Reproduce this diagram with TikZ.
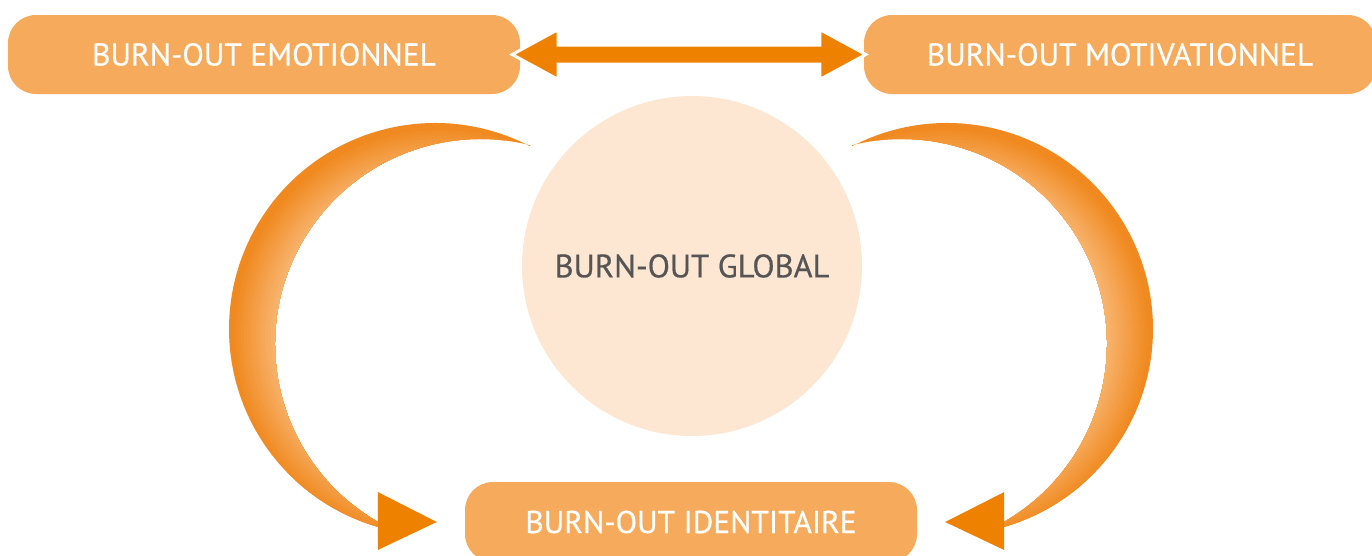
\documentclass[tikz,border=0pt]{standalone}
\usepackage{fontspec}
\setmainfont{PT Sans}
\newfontfamily\labelfont{PT Sans}[FakeBold=0.5]
\usetikzlibrary{calc}

\definecolor{boxorange}{HTML}{F6AB5C}
\definecolor{arroworange}{HTML}{EE8100}
\definecolor{globalfill}{HTML}{FDE7D3}
\definecolor{globaltext}{HTML}{555555}
\definecolor{arclight}{HTML}{F8BA7A}
\definecolor{arcdark}{HTML}{F08A20}

\begin{document}
\begin{tikzpicture}[x=1pt,y=-1pt,
  box/.style={fill=boxorange,rounded corners=28pt,minimum height=79pt,inner sep=0pt,text=white,font=\labelfont\fontsize{31.5}{36}\selectfont},
  headfill/.style={fill=arroworange}]

\useasboundingbox (0,0) rectangle (1372,555);

\node[circle,fill=globalfill,minimum size=340pt,inner sep=0pt,text=globaltext,font=\labelfont\fontsize{32.5}{36}\selectfont] (global) at (692,266) {BURN-OUT GLOBAL};

\node[box,minimum width=512pt] (emo) at (264,54.5) {BURN-OUT EMOTIONNEL};
\node[box,minimum width=512pt] (motiv) at (1120,54.5) {BURN-OUT MOTIVATIONNEL};
\node[box,minimum width=452pt,minimum height=80pt] (ident) at (691,522) {BURN-OUT IDENTITAIRE};

\coordinate (lt) at ([xshift=-8pt]emo.east);
\coordinate (rt) at ([xshift=2pt]motiv.west);
\filldraw[headfill,draw=white,line width=3pt,line join=miter] (lt) -- ([shift={(46,-25)}]lt) -- ([shift={(46,-9.5)}]lt) -- ([shift={(-46,-9.5)}]rt) -- ([shift={(-46,-25)}]rt) -- (rt) -- ([shift={(-46,25)}]rt) -- ([shift={(-46,9.5)}]rt) -- ([shift={(46,9.5)}]lt) -- ([shift={(46,25)}]lt) -- cycle;

\begin{scope}
\clip (435,329) ++(-62.6:206) arc[start angle=-62.6,end angle=-253.9,radius=206] -- ($(480,344)+(-240.2:205)$) arc[start angle=-240.2,end angle=-75.8,radius=205] -- cycle;
\fill[arcdark] (440,335) circle[radius=240];
\foreach \i [evaluate=\i as \rad using 208-3*\i, evaluate=\i as \pct using 6.25*\i] in {1,...,16}
  \fill[arclight!\pct!arcdark] (440,335) circle[radius=\rad];
\end{scope}

\begin{scope}
\clip (947,329) ++(242.6:206) arc[start angle=242.6,end angle=433.9,radius=206] -- ($(902,344)+(420.2:205)$) arc[start angle=420.2,end angle=255.8,radius=205] -- cycle;
\fill[arcdark] (942,335) circle[radius=240];
\foreach \i [evaluate=\i as \rad using 208-3*\i, evaluate=\i as \pct using 6.25*\i] in {1,...,16}
  \fill[arclight!\pct!arcdark] (942,335) circle[radius=\rad];
\end{scope}

\coordinate (ltip) at ([xshift=-28pt]ident.west);
\coordinate (rtip) at ([xshift=28pt]ident.east);
\fill[headfill] (ltip) -- ++(-59,-30) -- ++(0,58) -- cycle;
\fill[headfill] (rtip) -- ++(59,-30) -- ++(0,58) -- cycle;

\end{tikzpicture}
\end{document}
